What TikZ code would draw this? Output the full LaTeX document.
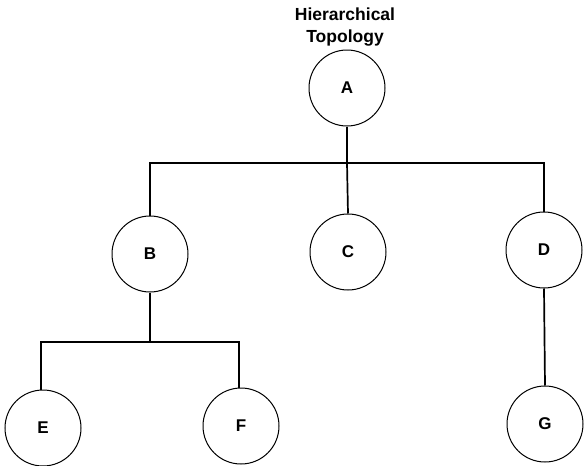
\documentclass[tikz,border=0pt]{standalone}
\usepackage{fontspec}
\setmainfont{Liberation Sans}
\begin{document}
\begin{tikzpicture}[x=1pt,y=-1pt,
  hub/.style={circle,draw,line width=1pt,minimum size=76pt,inner sep=0pt,font=\bfseries\fontsize{17}{17}\selectfont},
  link/.style={line width=1.7pt},
  title/.style={font=\bfseries\fontsize{17.5}{22}\selectfont,align=center}]
\useasboundingbox (0,0) rectangle (584,466);
% title
\node[title] (T) at (345,27) {Hierarchical\\Topology};
% nodes
\node[hub] (A) at (347,88) {A};
\node[hub] (B) at (150,254) {B};
\node[hub] (C) at (348,252) {C};
\node[hub] (D) at (544,250) {D};
\node[hub] (E) at (43,428) {E};
\node[hub] (F) at (241,426) {F};
\node[hub] (G) at (545,424) {G};
% junction points of the trunk lines
\coordinate (ja) at (347,163);
\coordinate (jb) at (150,163);
\coordinate (jd) at (544,163);
\coordinate (jbb) at (150,342);
\coordinate (je) at (41,342);
\coordinate (jf) at (239,342);
% connectors
\draw[link] (A.south) -- (ja);
\draw[link] (B.north) -- (jb) -- (jd) -- (D.north);
\draw[link] (ja) -- (C.north);
\draw[link] (B.south) -- (jbb);
\draw[link] (E.north -| je) -- (je) -- (jf) -- (F.north -| jf);
\draw[link] (D.south) -- (G.north);
\end{tikzpicture}
\end{document}
